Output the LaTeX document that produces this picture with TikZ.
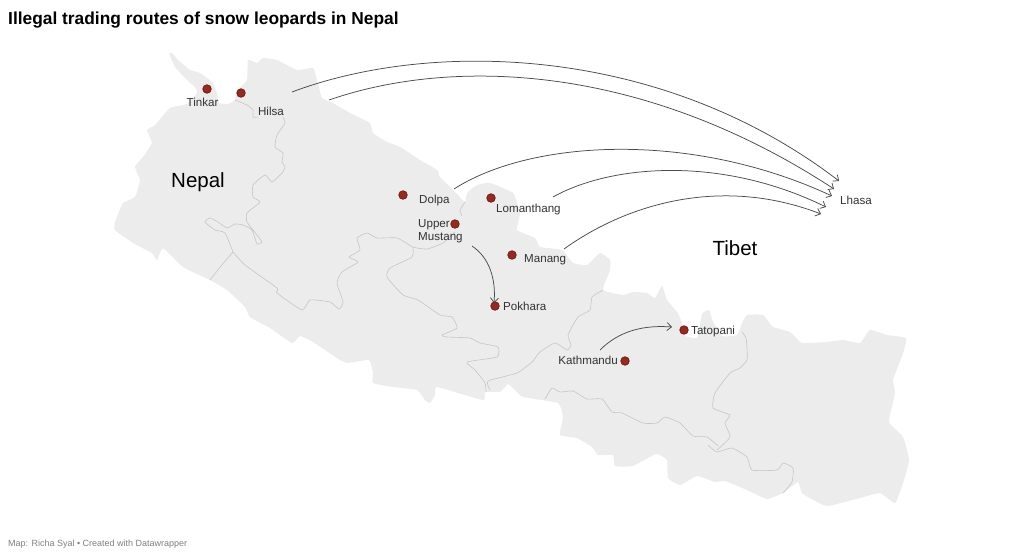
\documentclass[tikz,border=0pt]{standalone}
\usepackage{fontspec}
\setmainfont{Liberation Sans}
\usetikzlibrary{arrows.meta}
\definecolor{landgray}{HTML}{ECECEC}
\definecolor{rivergray}{HTML}{C6C6C6}
\definecolor{dotred}{HTML}{8F2C24}
\definecolor{dotrim}{HTML}{7E1A14}
\definecolor{routegray}{HTML}{4A4A4A}
\definecolor{labelgray}{HTML}{333333}
\begin{document}
\begin{tikzpicture}[x=1pt, y=-1pt,
	land/.style = {fill=landgray},
	border/.style = {draw=rivergray, line width=0.6pt, line join=round},
	route/.style = {draw=routegray, line width=0.75pt, -{Straight Barb[length=4.5pt,width=8pt]}},
	town/.style = {circle, draw=dotrim, line width=0.8pt, fill=dotred, inner sep=0pt, minimum size=8.5pt},
	place/.style = {text=labelgray, inner sep=0pt, font=\fontsize{11.6}{13}\selectfont},
	region/.style = {text=black, inner sep=0pt, font=\fontsize{20.5}{24}\selectfont}]
	% Page
	\fill[white] (0,0) rectangle (1024,558);
	\useasboundingbox (0,0) rectangle (1024,558);

	% Title and source
	\node[anchor=west, inner sep=0pt, font=\bfseries\fontsize{17.35}{20}\selectfont] (title) at (8,20) {Illegal trading routes of snow leopards in Nepal};
	\node[anchor=west, inner sep=0pt, text=black!50, font=\fontsize{9}{11}\selectfont] (source) at (8,544) {Map: Richa Syal • Created with Datawrapper};

	% Country shape
	\fill[land] plot[smooth cycle, tension=0.25] coordinates {
		(169,53) (173,54) (178,60) (190,70) (200,73) (212,82) (217,93) (219,103) (228,104) (235,100)
		(238,90) (247,80) (248,60) (257,63) (263,58) (277,60) (297,70) (313,68) (317,80) (322,98)
		(333,103) (350,113) (370,123) (373,133) (387,142) (400,147) (420,160) (437,170) (440,177) (453,190)
		(465,202) (467,193) (477,185) (490,183) (513,193) (520,213) (517,230) (535,238) (540,247) (562,250)
		(573,263) (587,265) (600,253) (610,260) (610,270) (603,290) (623,295) (633,292) (647,293) (655,298)
		(662,286) (667,300) (677,312) (682,323) (683,335) (697,338) (702,314) (709,310) (713,322) (722,336)
		(737,335) (742,323) (747,315) (763,315) (773,327) (790,332) (802,343) (827,342) (843,340) (860,343)
		(870,330) (887,335) (906,338) (903,353) (893,380) (895,393) (889,422) (903,437) (909,460) (903,483)
		(895,503) (880,493) (860,498) (828,506) (817,502) (802,493) (798,482) (783,493) (767,499) (747,490)
		(725,481) (715,482) (697,476) (680,485) (668,478) (667,460) (656,454) (633,466) (615,466) (613,455)
		(598,455) (592,447) (577,438) (560,435) (563,417) (558,403) (523,397) (515,390) (508,384) (500,392)
		(485,392) (483,400) (437,387) (435,395) (430,403) (425,400) (417,390) (393,387) (373,383) (373,373)
		(369,360) (347,363) (337,358) (313,342) (300,336) (292,343) (270,328) (250,317) (245,307) (227,290)
		(210,280) (183,267) (163,248) (157,260) (152,253) (133,243) (115,230) (115,222) (123,203) (135,197)
		(140,180) (135,167) (143,157) (152,143) (147,130) (155,125) (170,108) (187,104) (197,93) (195,87)
		(187,80) (175,67)};

	% Inner borders, west
	\draw[border] plot[smooth, tension=0.3] coordinates {
		(235,100) (247,105) (253,110) (253,117) (258,117)};
	\draw[border] plot[smooth, tension=0.3] coordinates {
		(283,117) (285,123) (277,135) (275,147) (283,153) (282,162) (285,167) (282,173) (272,182) (265,175)
		(253,185) (253,197) (260,202) (247,213) (247,222) (257,235) (262,242) (257,244) (252,230) (243,225)
		(235,224) (227,228) (218,222) (210,218) (205,222) (215,230) (225,233) (233,252)};
	\draw[border] plot[smooth, tension=0.3] coordinates {(233,252) (221,266) (210,280)};
	\draw[border] plot[smooth, tension=0.3] coordinates {
		(233,252) (245,265) (277,288) (277,293) (302,310) (310,300) (330,302) (339,309) (343,302) (337,283)
		(342,272) (358,262) (349,257) (360,250) (357,238) (367,233) (377,238) (397,238) (413,247) (427,249)
		(443,243) (455,232)};
	\draw[border] plot[smooth, tension=0.3] coordinates {(465,202) (460,210) (462,216)};

	% Inner borders, middle
	\draw[border] plot[smooth, tension=0.3] coordinates {
		(413,247) (412,257) (390,268) (387,277) (403,295) (418,300) (440,315) (452,317) (457,328) (442,335)
		(447,337) (470,338) (480,343) (498,347) (497,357) (467,362) (475,370) (485,383) (486,392)};
	\draw[border] plot[smooth, tension=0.3] coordinates {
		(490,390) (488,381) (517,373) (532,362) (540,352) (555,343) (567,350) (571,345) (568,335) (578,317)
		(590,310) (592,297) (603,290)};

	% Inner borders, east
	\draw[border] plot[smooth, tension=0.3] coordinates {
		(545,399) (552,388) (560,392) (573,391) (587,399) (602,399) (612,412) (622,413) (643,423) (657,423)
		(665,417) (680,423) (693,436) (707,437) (718,446)};
	\draw[border] plot[smooth, tension=0.3] coordinates {
		(742,332) (746,338) (747,348) (747,360) (740,368) (730,373) (715,393) (713,408) (730,415) (725,423)
		(730,437) (717,450)};
	\draw[border] plot[smooth, tension=0.3] coordinates {
		(708,445) (717,452) (732,448) (747,457) (752,470) (777,470) (783,463) (793,468) (792,482) (783,493)};

	% Towns
	\node[town] (tinkar) at (207,89) {};
	\node[town] (hilsa) at (241,93) {};
	\node[town] (dolpa) at (403,195) {};
	\node[town] (lomanthang) at (491,198) {};
	\node[town] (mustang) at (455,224) {};
	\node[town] (manang) at (512,255) {};
	\node[town] (pokhara) at (495,306) {};
	\node[town] (kathmandu) at (625,361) {};
	\node[town] (tatopani) at (684,330) {};

	% Town names
	\node[place] (tinkarlabel) at (202.5,102) {Tinkar};
	\node[place] (hilsalabel) at (271,111) {Hilsa};
	\node[place, anchor=west] (dolpalabel) at (419,200) {Dolpa};
	\node[place, anchor=west] (lomanthanglabel) at (496,209) {Lomanthang};
	\node[place, anchor=west, align=left] (mustanglabel) at (418,231) {Upper\\Mustang};
	\node[place, anchor=west] (mananglabel) at (524,260) {Manang};
	\node[place, anchor=west] (pokharalabel) at (503,306) {Pokhara};
	\node[place, anchor=east] (kathmandulabel) at (618,360) {Kathmandu};
	\node[place, anchor=west] (tatopanilabel) at (691,331) {Tatopani};
	\node[place, anchor=west] (lhasa) at (840,200) {Lhasa};

	% Region names
	\node[region] (nepal) at (198,182) {Nepal};
	\node[region] (tibet) at (735,248) {Tibet};

	% Route ends
	\coordinate (routeA) at (292,92);
	\coordinate (routeB) at (329,100);
	\coordinate (routeC) at (454,189);
	\coordinate (routeD) at (553,197);
	\coordinate (routeE) at (564,249);
	\coordinate (routeF) at (472,246);
	\coordinate (routeG) at (600,350);
	\coordinate (lhasaA) at (839,181);
	\coordinate (lhasaB) at (834,189);
	\coordinate (lhasaC) at (832,196);
	\coordinate (lhasaD) at (826,207);
	\coordinate (lhasaE) at (821,214);
	\coordinate (pokharaend) at (494,303);
	\coordinate (tatopaniend) at (672,327);

	% Routes
	\draw[route] (routeA) .. controls (430,40) and (660,44) .. (lhasaA);
	\draw[route] (routeB) .. controls (450,58) and (640,62) .. (lhasaB);
	\draw[route] (routeC) .. controls (530,140) and (690,130) .. (lhasaC);
	\draw[route] (routeD) .. controls (610,165) and (720,155) .. (lhasaD);
	\draw[route] (routeE) .. controls (625,205) and (720,175) .. (lhasaE);
	\draw[route] (routeF) .. controls (490,258) and (496,280) .. (pokharaend);
	\draw[route] (routeG) .. controls (620,330) and (645,325) .. (tatopaniend);
\end{tikzpicture}
\end{document}
